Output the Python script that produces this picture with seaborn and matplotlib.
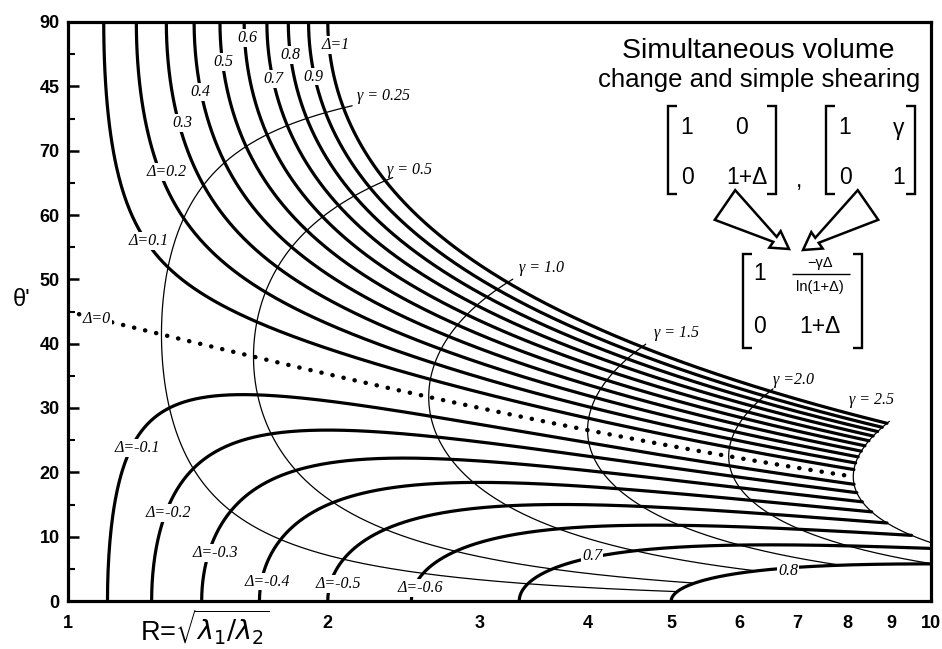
import numpy as np
import pandas as pd
import matplotlib
matplotlib.use("Agg")
import matplotlib.pyplot as plt
import seaborn as sns
from matplotlib.lines import Line2D
from matplotlib.patches import Polygon

# ---------------- data ----------------
delta_values = [-0.8, -0.7, -0.6, -0.5, -0.4, -0.3, -0.2, -0.1,
                0.1, 0.2, 0.3, 0.4, 0.5, 0.6, 0.7, 0.8, 0.9, 1.0]
delta_zero = 0.0
gamma_values = [0.25, 0.5, 1.0, 1.5, 2.0, 2.5]
gamma_max = 2.5
delta_min, delta_max = -0.8, 1.05

x_ticks = [1, 2, 3, 4, 5, 6, 7, 8, 9, 10]
x_ticklabels = ["1", "2", "3", "4", "5", "6", "7", "8", "9", "10"]
y_ticks = [0, 10, 20, 30, 40, 50, 60, 70, 80, 90]
y_ticklabels = ["0", "10", "20", "30", "40", "50", "60", "70", "45", "90"]

# Delta labels: text, R, theta'
delta_labels = [
    ("0.3", 1.356, 74.3), ("0.4", 1.422, 79.1), ("0.5", 1.512, 83.8),
    ("0.6", 1.612, 87.5), ("0.7", 1.728, 81.1), ("0.8", 1.808, 84.9),
    ("0.9", 1.922, 81.5), ("Δ=1", 2.04, 86.4), ("Δ=0.2", 1.30, 66.7),
    ("Δ=0.1", 1.24, 56.0), ("Δ=0", 1.08, 43.8),
    ("Δ=-0.1", 1.202, 23.8), ("Δ=-0.2", 1.306, 13.7), ("Δ=-0.3", 1.48, 7.5),
    ("Δ=-0.4", 1.70, 3.0), ("Δ=-0.5", 2.055, 2.6), ("Δ=-0.6", 2.558, 2.0),
    ("0.7", 4.05, 7.0), ("0.8", 6.83, 4.7),
]
# gamma labels: text, R, theta' (left edge of text)
gamma_labels = [
    ("γ = 0.25", 2.16, 78.5), ("γ = 0.5", 2.34, 67.0), ("γ = 1.0", 3.33, 51.8),
    ("γ = 1.5", 4.77, 41.6), ("γ =2.0", 6.56, 34.3), ("γ = 2.5", 8.04, 31.3),
]


def ellipse(delta, gamma):
    delta = np.asarray(delta, float)
    gamma = np.asarray(gamma, float)
    with np.errstate(divide="ignore", invalid="ignore"):
        fac = np.where(np.abs(delta) < 1e-12, 1.0, delta / np.log1p(delta))
    g = gamma * fac
    d = 1.0 + delta
    b11 = 1.0 + g ** 2
    b12 = g * d
    b22 = d ** 2
    half = (b11 + b22) / 2.0
    disc = np.sqrt(((b11 - b22) / 2.0) ** 2 + b12 ** 2)
    l1, l2 = half + disc, half - disc
    R = np.sqrt(l1 / l2)
    th = np.degrees(0.5 * np.arctan2(2 * b12, b11 - b22))
    return R, th


rows = []
gam = np.linspace(1e-6, gamma_max, 800)
for dv in delta_values:
    R, th = ellipse(np.full_like(gam, dv), gam)
    for r, t in zip(R, th):
        rows.append({"delta": dv, "R": r, "theta": t})
df_delta = pd.DataFrame(rows)

R0, th0 = ellipse(np.zeros_like(gam), gam)
df_zero = pd.DataFrame({"R": R0, "theta": th0, "delta": delta_zero})

rows = []
dl = np.linspace(delta_min, delta_max, 900)
for gv in gamma_values:
    R, th = ellipse(dl, np.full_like(dl, gv))
    for r, t in zip(R, th):
        rows.append({"gamma": gv, "R": r, "theta": t})
df_gamma = pd.DataFrame(rows)

# ---------------- figure ----------------
sns.set_style("white")
plt.rcParams["font.family"] = ["Liberation Sans", "DejaVu Sans"]
plt.rcParams["mathtext.fontset"] = "dejavusans"
for k in ["text.color", "axes.labelcolor", "xtick.color", "ytick.color", "axes.edgecolor"]:
    plt.rcParams[k] = "black"

W, H = 942, 649
fig = plt.figure(figsize=(W / 100, H / 100), dpi=100)
ax = fig.add_axes([68 / W, 1 - 601 / H, (931 - 68) / W, (601 - 22) / H])

sns.lineplot(data=df_gamma, x="R", y="theta", units="gamma", estimator=None,
             sort=False, color="black", lw=0.9, ax=ax, legend=False)
sns.lineplot(data=df_delta, x="R", y="theta", units="delta", estimator=None,
             sort=False, color="black", lw=2.3, ax=ax, legend=False)
sns.lineplot(data=df_zero, x="R", y="theta", estimator=None, sort=False,
             color="black", lw=3.2, ax=ax, legend=False)
ln = ax.lines[-1]
ln.set_linestyle((0, (0.05, 2.5)))
ln.set_dash_capstyle("round")

ax.set_xscale("log")
ax.set_xlim(1, 10)
ax.set_ylim(0, 90)
ax.set_xticks(x_ticks)
ax.set_xticklabels(x_ticklabels)
ax.xaxis.set_minor_locator(matplotlib.ticker.NullLocator())
ax.set_yticks(y_ticks)
ax.set_yticklabels(y_ticklabels)
ax.set_yticks(np.arange(5, 90, 10), minor=True)
ax.set_xlabel("")
ax.set_ylabel("")
for s in ax.spines.values():
    s.set_visible(True)
    s.set_linewidth(2.3)
    s.set_color("black")
ax.tick_params(axis="x", which="major", direction="inout", length=10, width=1.8,
               labelsize=13, pad=5)
ax.tick_params(axis="y", which="major", direction="in", length=8, width=1.8,
               labelsize=13, pad=6, left=True)
ax.tick_params(axis="y", which="minor", direction="in", length=5, width=1.5, left=True)
for t in ax.get_xticklabels() + ax.get_yticklabels():
    t.set_fontweight("bold")

lab_kw = dict(family=["Liberation Serif", "DejaVu Serif"], style="italic",
              fontsize=11.5, ha="center", va="center", zorder=5,
              bbox=dict(facecolor="white", edgecolor="none", pad=0.6))
for t, r, th in delta_labels:
    ax.text(r, th, t, **lab_kw)
for t, r, th in gamma_labels:
    ax.text(r, th, t, family=["Liberation Serif", "DejaVu Serif"], style="italic",
            fontsize=11.5, ha="left", va="center", zorder=5)


# ---------------- annotation (pixel coords of the reference) -------------
def P(x, y):
    return (x / W, 1 - y / H)


def ftext(x, y, s, size, **kw):
    fx, fy = P(x, y)
    fig.text(fx, fy, s, fontsize=size, ha=kw.pop("ha", "center"),
             va=kw.pop("va", "center"), **kw)


def fline(xs, ys, lw=1.7):
    pts = [P(x, y) for x, y in zip(xs, ys)]
    fig.add_artist(Line2D([p[0] for p in pts], [p[1] for p in pts],
                          color="black", lw=lw, transform=fig.transFigure,
                          solid_capstyle="butt", solid_joinstyle="miter"))


def bracket(x, y0, y1, side, serif=9):
    d = serif if side == "left" else -serif
    fline([x + d, x, x, x + d], [y0, y0, y1, y1])


def arrow(base, tip, wb, wn, wh, hl):
    bx, by = base
    tx, ty = tip
    v = np.array([tx - bx, ty - by], float)
    L = np.linalg.norm(v)
    u = v / L
    n = np.array([-u[1], u[0]])
    b = np.array([bx, by])
    neck = b + u * (L - hl)
    pts = [b + n * wb, neck + n * wn, neck + n * wh, np.array([tx, ty]),
           neck - n * wh, neck - n * wn, b - n * wb]
    pts = [P(p[0], p[1]) for p in pts]
    fig.add_artist(Polygon(pts, closed=True, facecolor="white", edgecolor="black",
                           lw=1.8, transform=fig.transFigure, zorder=6))


ftext(758, 51, "Simultaneous volume", 20.5)
ftext(759, 80, "change and simple shearing", 18.5)

mfs = 16.5
# left matrix
bracket(668, 106, 194, "left")
bracket(776, 106, 194, "right")
ftext(687, 128, "1", mfs)
ftext(742, 128, "0", mfs)
ftext(687, 177, "0", mfs)
ftext(747, 177, "1+Δ", mfs)
ftext(799, 181, ",", mfs)
# right matrix
bracket(826, 106, 194, "left")
bracket(915, 106, 194, "right")
ftext(845, 128, "1", mfs)
ftext(899, 128, "γ", mfs)
ftext(845, 177, "0", mfs)
ftext(899, 177, "1", mfs)
# arrows
arrow((725, 205), (789, 249), 18, 3, 10, 17)
arrow((868, 205), (803, 250), 18, 3, 10, 17)
# bottom matrix
bracket(743, 254, 348, "left")
bracket(862, 254, 348, "right")
ftext(760, 274, "1", mfs)
ftext(820, 263, "−γΔ", 10.5)
fline([792, 850], [274, 274], lw=1.0)
ftext(820, 287, "ln(1+Δ)", 10.5)
ftext(760, 326, "0", mfs)
ftext(820, 326, "1+Δ", mfs)

# axis labels
ftext(205, 627, r"R=$\sqrt{\lambda_1/\lambda_2}$", 19.5)
ftext(22, 300, "θ'", 17)

fig.savefig("out.png", dpi=100)
